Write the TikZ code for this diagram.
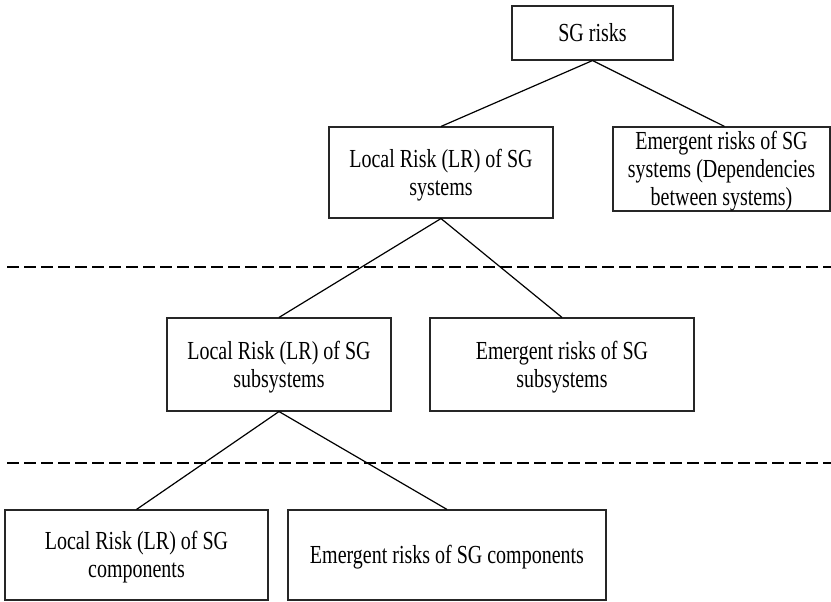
\documentclass[tikz,border=0pt]{standalone}
\usepackage{fontspec}
\usepackage{graphicx}
\setmainfont{Liberation Serif}
\newcommand{\vt}[1]{\raisebox{-3pt}[\height][\depth]{\scalebox{1}[1.3]{\begin{tabular}{@{}c@{}}#1\end{tabular}}}}
\begin{document}
\begin{tikzpicture}[x=1pt,y=-1pt,
  box/.style={draw=black!85, line width=1.1pt, inner sep=0pt, anchor=center,
    font=\fontsize{20}{21.5}\selectfont},
  link/.style={draw=black, line width=1.2pt},
  sep/.style={draw=black, line width=1.4pt, dash pattern=on 12pt off 5pt}]
\useasboundingbox (0,0) rectangle (831,602);
\node[box, minimum width=161pt, minimum height=54pt] (sg) at (592.5,33) {\vt{SG risks}};
\node[box, minimum width=224pt, minimum height=91pt] (ls) at (441,172.5) {\vt{Local Risk (LR) of SG\\systems}};
\node[box, minimum width=217pt, minimum height=84pt] (es) at (721.5,169) {\vt{Emergent risks of SG\\systems (Dependencies\\between systems)}};
\node[box, minimum width=224pt, minimum height=93pt] (lss) at (279,364.5) {\vt{Local Risk (LR) of SG\\subsystems}};
\node[box, minimum width=264pt, minimum height=93pt] (ess) at (562,364.5) {\vt{Emergent risks of SG\\subsystems}};
\node[box, minimum width=263pt, minimum height=90pt] (lc) at (136.5,555) {\vt{Local Risk (LR) of SG\\components}};
\node[box, minimum width=318pt, minimum height=90pt] (ec) at (447,555) {\vt{Emergent risks of SG components}};
\coordinate (d1l) at (7,267);
\coordinate (d1r) at (831,267);
\coordinate (d2l) at (7,463);
\coordinate (d2r) at (831,463);
\draw[sep] (d1l) -- (d1r);
\draw[sep] (d2l) -- (d2r);
\draw[link] (sg.south) -- (ls.north);
\draw[link] (sg.south) -- ([xshift=3pt]es.north);
\draw[link] (ls.south) -- (lss.north);
\draw[link] (ls.south) -- (ess.north);
\draw[link] (lss.south) -- (lc.north);
\draw[link] (lss.south) -- (ec.north);
\end{tikzpicture}
\end{document}
